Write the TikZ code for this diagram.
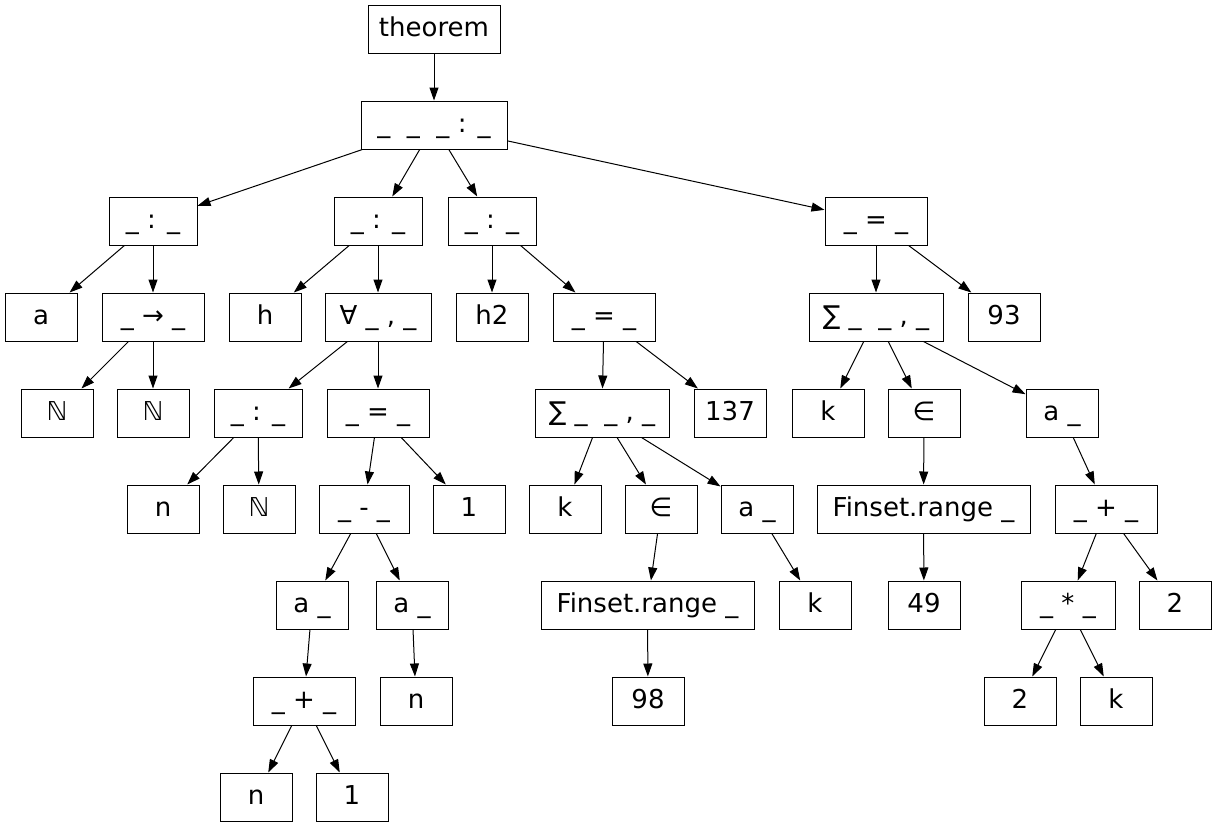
\documentclass[tikz,border=0pt]{standalone}
\usepackage{fontspec}
\setmainfont{DejaVu Sans}
\usetikzlibrary{arrows.meta}
\begin{document}
\begin{tikzpicture}[x=1pt,y=-1pt,
  box/.style={draw=black,line width=1pt,rectangle,inner sep=0pt,
    minimum height=48pt,minimum width=#1,
    font=\fontsize{26}{30}\selectfont,text height=20.5pt,text depth=5.5pt},
  box/.default=72pt,
  edge/.style={line width=1pt,-{Triangle[length=13pt,width=9pt]}}]
\useasboundingbox (0,0) rectangle (1216,827);
% row 1--2
\node[box=132pt] (th) at (434,29) {theorem};
\node[box=146pt] (r) at (434,125) {\_~~\_~~\_ : \_};
% row 3
\node[box=88pt] (c1) at (153,221) {\_ : \_};
\node[box=88pt] (c2) at (378,221) {\_ : \_};
\node[box=88pt] (c3) at (492,221) {\_ : \_};
\node[box=102pt] (c4) at (876,221) {\_ = \_};
% row 4
\node[box] (a) at (41,317) {a};
\node[box=102pt] (arr) at (153,317) {\_ → \_};
\node[box] (h) at (265,317) {h};
\node[box=106pt] (fa) at (378,317) {∀ \_ , \_};
\node[box] (h2) at (492,317) {h2};
\node[box=102pt] (eq1) at (604,317) {\_ = \_};
\node[box=134pt] (sum1) at (876,317) {∑ \_~~\_ , \_};
\node[box] (n93) at (1004,317) {93};
% row 5
\node[box] (N1) at (57,413) {ℕ};
\node[box] (N2) at (153,413) {ℕ};
\node[box=88pt] (col) at (258,413) {\_ : \_};
\node[box=102pt] (eq2) at (378,413) {\_ = \_};
\node[box=134pt] (sum2) at (602,413) {∑ \_~~\_ , \_};
\node[box] (n137) at (730,413) {137};
\node[box] (k1) at (828,413) {k};
\node[box] (in1) at (924,413) {∈};
\node[box] (ak1) at (1062,413) {a \_};
% row 6
\node[box] (n1) at (163,509) {n};
\node[box] (N3) at (259,509) {ℕ};
\node[box=90pt] (sub) at (364,509) {\_ - \_};
\node[box] (one1) at (469,509) {1};
\node[box] (k2) at (565,509) {k};
\node[box] (in2) at (661,509) {∈};
\node[box] (ak2) at (757,509) {a \_};
\node[box=213pt] (fr1) at (923.5,509) {Finset.range \_};
\node[box=102pt] (add1) at (1106,509) {\_ + \_};
% row 7
\node[box] (aa) at (312,605) {a \_};
\node[box] (ab) at (412,605) {a \_};
\node[box=213pt] (fr2) at (647.5,605) {Finset.range \_};
\node[box] (k3) at (815,605) {k};
\node[box] (n49) at (924,605) {49};
\node[box=94pt] (mul) at (1068,605) {\_ * \_};
\node[box] (two1) at (1175,605) {2};
% row 8
\node[box=102pt] (add2) at (304,701) {\_ + \_};
\node[box] (n2) at (416,701) {n};
\node[box] (n98) at (648,701) {98};
\node[box] (two2) at (1020,701) {2};
\node[box] (k4) at (1116,701) {k};
% row 9
\node[box] (n3) at (256,797) {n};
\node[box] (one2) at (352,797) {1};
% connectors
\foreach \p/\c in {th/r, r/c1, r/c2, r/c3, r/c4,
  c1/a, c1/arr, arr/N1, arr/N2,
  c2/h, c2/fa, fa/col, fa/eq2, col/n1, col/N3,
  eq2/sub, eq2/one1, sub/aa, sub/ab, aa/add2, ab/n2, add2/n3, add2/one2,
  c3/h2, c3/eq1, eq1/sum2, eq1/n137, sum2/k2, sum2/in2, sum2/ak2,
  in2/fr2, ak2/k3, fr2/n98,
  c4/sum1, c4/n93, sum1/k1, sum1/in1, sum1/ak1, in1/fr1, ak1/add1,
  fr1/n49, add1/mul, add1/two1, mul/two2, mul/k4}
  \draw[edge] (\p) -- (\c);
\end{tikzpicture}
\end{document}
